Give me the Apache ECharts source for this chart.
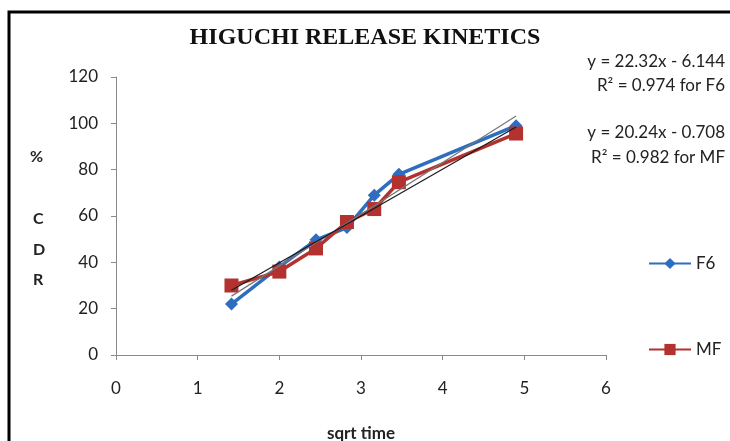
<!DOCTYPE html>
<html>
<head>
<meta charset="utf-8">
<script src="https://cdn.jsdelivr.net/npm/echarts@6/dist/echarts.min.js"></script>
<style>html,body{margin:0;padding:0;background:#fff;}#c{width:730px;height:441px;}</style>
</head>
<body>
<div id="c"></div>
<script>
const sqrtTime = [1.414, 2, 2.449, 2.828, 3.162, 3.464, 4.899];
const f6 = [22, 38, 49.7, 55, 69, 78, 99];
const mf = [30, 36, 46, 57.4, 63, 74.6, 95.6];
const xTicks = [0, 6, 1];
const yTicks = [0, 120, 20];
const trendF6 = [22.32, -6.144];
const trendMF = [20.24, -0.708];
const eqText = ['y = 22.32x - 6.144', 'R\u00b2 = 0.974 for F6', 'y = 20.24x - 0.708', 'R\u00b2 = 0.982 for MF'];

const pair = (xs, ys) => xs.map((x, i) => [x, ys[i]]);
const xEnds = [sqrtTime[0], sqrtTime[sqrtTime.length - 1]];
const trendPts = (c) => xEnds.map(x => [x, c[0] * x + c[1]]);

const chart = echarts.init(document.getElementById('c'), null, {renderer: 'canvas'});
const axisLbl = {color: '#222', fontSize: 17, fontFamily: 'Lato'};
chart.setOption({
  animation: false,
  backgroundColor: '#fff',
  title: {
    text: 'HIGUCHI RELEASE KINETICS', left: 'center', top: 21,
    textStyle: {fontFamily: 'Liberation Serif', fontWeight: 'bold', fontSize: 24, color: '#111'}
  },
  grid: {left: 116, right: 124, top: 77, bottom: 86, outerBoundsMode: 'none', containLabel: false},
  xAxis: {
    type: 'value', min: xTicks[0], max: xTicks[1], interval: xTicks[2],
    splitLine: {show: false},
    axisLine: {lineStyle: {color: '#8a8a8a', width: 1}},
    axisTick: {show: true, length: 5, lineStyle: {color: '#8a8a8a'}},
    axisLabel: Object.assign({margin: 25}, axisLbl),
    name: 'sqrt time', nameLocation: 'middle', nameGap: 70,
    nameTextStyle: {fontFamily: 'Lato', fontWeight: 'bold', fontSize: 17, color: '#222'}
  },
  yAxis: {
    type: 'value', min: yTicks[0], max: yTicks[1], interval: yTicks[2],
    splitLine: {show: false},
    axisLine: {show: true, lineStyle: {color: '#8a8a8a', width: 1}},
    axisTick: {show: true, length: 5, lineStyle: {color: '#8a8a8a'}},
    axisLabel: Object.assign({margin: 18}, axisLbl)
  },
  legend: {
    orient: 'vertical', left: 643, top: 250, itemGap: 69, itemWidth: 42, itemHeight: 14,
    textStyle: {fontFamily: 'Lato', fontSize: 17, color: '#222'},
    data: ['F6', 'MF']
  },
  series: [
    {name: 'F6', type: 'line', data: pair(sqrtTime, f6), symbol: 'diamond', symbolSize: 13,
     itemStyle: {color: '#2f6dbf'}, lineStyle: {color: '#2f6dbf', width: 3.5}, z: 2},
    {name: 'MF', type: 'line', data: pair(sqrtTime, mf), symbol: 'rect', symbolSize: 14,
     itemStyle: {color: '#b33230'}, lineStyle: {color: '#b33230', width: 3.5}, z: 3},
    {name: 'trendF6', type: 'line', data: trendPts(trendF6), symbol: 'none',
     lineStyle: {color: '#777', width: 1.2}, z: 4, silent: true},
    {name: 'trendMF', type: 'line', data: trendPts(trendMF), symbol: 'none',
     lineStyle: {color: '#1a1a1a', width: 1.2}, z: 4, silent: true}
  ],
  graphic: [
    {type: 'rect', shape: {x: 9, y: 12, width: 740, height: 460}, style: {fill: null, stroke: '#000', lineWidth: 3}, z: 10},
    {type: 'text', right: 5, top: 53, style: {text: eqText[0], font: '17px Lato', fill: '#222', textAlign: 'right'}},
    {type: 'text', right: 5, top: 77, style: {text: eqText[1], font: '17px Lato', fill: '#222', textAlign: 'right'}},
    {type: 'text', right: 5, top: 124, style: {text: eqText[2], font: '17px Lato', fill: '#222', textAlign: 'right'}},
    {type: 'text', right: 5, top: 149, style: {text: eqText[3], font: '17px Lato', fill: '#222', textAlign: 'right'}},
    {type: 'text', left: 30, top: 149, style: {text: '%', font: 'bold 16px Lato', fill: '#222'}},
    {type: 'text', left: 33, top: 211, style: {text: 'C', font: 'bold 16px Lato', fill: '#222'}},
    {type: 'text', left: 33, top: 242, style: {text: 'D', font: 'bold 16px Lato', fill: '#222'}},
    {type: 'text', left: 33, top: 272, style: {text: 'R', font: 'bold 16px Lato', fill: '#222'}}
  ]
});
</script>
</body>
</html>
